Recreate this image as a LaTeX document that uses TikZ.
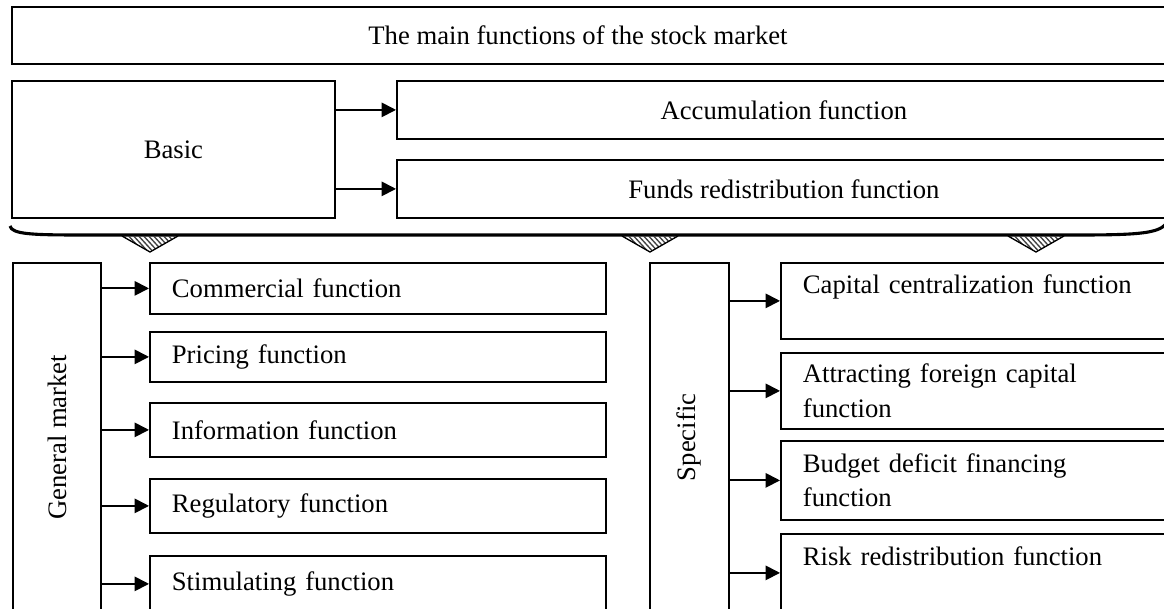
\documentclass[tikz,border=0pt]{standalone}
\usepackage{fontspec}
\usepackage{graphicx}
\setmainfont{Liberation Serif}
\usetikzlibrary{arrows.meta}

\begin{document}
\begin{tikzpicture}
[
    x=0.45pt, y=-0.45pt,
    every node/.style={font=\fontsize{12}{15.5}\selectfont},
    box/.style={draw, line width=0.8pt, anchor=north west, inner sep=0pt},
    lfunc/.style={box, minimum width=205.2pt, text width=185.4pt, inner xsep=9.9pt, align=left},
    rfunc/.style={box, minimum width=177.75pt, text width=157.95pt, inner xsep=9.9pt, align=left, minimum height=34.2pt},
    link/.style={-{Triangle[length=6.5pt,width=6.5pt]}, line width=0.8pt},
]
\useasboundingbox (0,0) rectangle (1164,609);

% top part
\node [box, minimum width=523.8pt, minimum height=25.65pt] (title) at (11,6) {};
\node (titletext) at (578,35) {The main functions of the stock market};
\node [box, minimum width=145.35pt, minimum height=61.65pt] (basic) at (11,80) {Basic};
\node [box, minimum width=348.3pt, minimum height=26.1pt] (acc) at (396,80) {Accumulation function};
\node [box, minimum width=348.3pt, minimum height=26.1pt] (funds) at (396,159) {Funds redistribution function};
\draw [link] (acc.west -| basic.east) -- (acc.west);
\draw [link] (funds.west -| basic.east) -- (funds.west);

% brace and hatched pointers
\draw [line width=1.4pt] (10,226) .. controls (12,234) and (30,235) .. (80,235)
    -- (1080,235) .. controls (1140,235) and (1158,233) .. (1166,224);
\foreach \x in {150,650,1036} {
    \begin{scope}
        \clip (\x-28,236) -- (\x,252) -- (\x+28,236) -- cycle;
        \foreach \s in {-40,-35,...,40}
            \draw [line width=0.6pt, black!75] (\x+\s-10,232) -- (\x+\s+12,256);
    \end{scope}
    \draw [line width=0.6pt] (\x-28,236) -- (\x,252) -- (\x+28,236);
}

% general market
\node [box, minimum width=39.6pt, minimum height=157.05pt] (gm) at (12,262) {\rotatebox{90}{General market}};
\node [lfunc, minimum height=22.95pt] (com) at (149,262) {Commercial function};
\node [lfunc, minimum height=22.5pt] (pri) at (149,331) {Pricing function};
\node [lfunc, minimum height=24.3pt] (inf) at (149,402) {Information function};
\node [lfunc, minimum height=24.3pt] (reg) at (149,478) {Regulatory function};
\node [lfunc, minimum height=25.2pt] (sti) at (149,555) {Stimulating function};
\foreach \n in {com,pri,inf,reg,sti}
    \draw [link] (\n.west -| gm.east) -- (\n.west);

% specific
\node [box, minimum width=35.55pt, minimum height=157.05pt] (spec) at (649,262) {\rotatebox{90}{Specific}};
\node [rfunc] (cap) at (780,262) {Capital centralization function\\~};
\node [rfunc] (att) at (780,352) {Attracting foreign capital\\function};
\node [rfunc, minimum height=35.55pt] (bud) at (780,440) {Budget deficit financing\\function};
\node [rfunc, minimum height=35.1pt] (risk) at (780,533) {Risk redistribution function\\~};
\foreach \n in {cap,att,bud,risk}
    \draw [link] (\n.west -| spec.east) -- (\n.west);
\end{tikzpicture}
\end{document}
